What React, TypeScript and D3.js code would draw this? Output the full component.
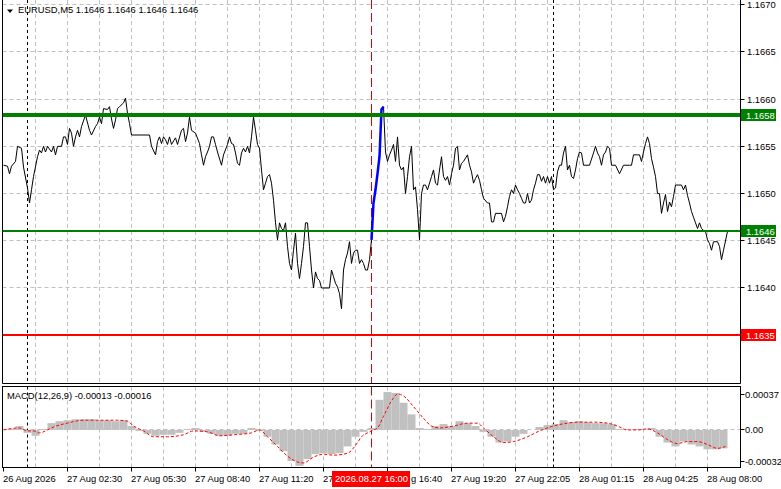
import React, { useEffect, useRef } from "react";
import * as d3 from "d3";

const W = 781;
const H = 489;

const symbolTitle = "EURUSD,M5  1.1646 1.1646 1.1646 1.1646";
const macdTitle = "MACD(12,26,9) -0.00013 -0.00016";

const priceTicks = [1.1635, 1.164, 1.1645, 1.165, 1.1655, 1.166, 1.1665, 1.167];
const macdTicks = [0.00037, 0, -0.00032];
const macdTickLabels = ["0.00037", "0.00", "-0.00032"];

const timeLabels = [
  "26 Aug 2026",
  "27 Aug 02:30",
  "27 Aug 05:30",
  "27 Aug 08:40",
  "27 Aug 11:20",
  "27 Aug 14:00",
  "27 Aug 16:40",
  "27 Aug 19:20",
  "27 Aug 22:05",
  "28 Aug 01:15",
  "28 Aug 04:25",
  "28 Aug 08:00",
];

// bar index of each close (M5 bars)
const priceBars = [
  0, 2, 3, 4, 6, 7, 9, 10, 12, 13, 14, 15, 17, 18, 19, 20, 21, 22, 24, 25, 26, 27, 29, 30, 31, 32, 33, 34, 35,
  36, 37, 38, 39, 41, 43, 44, 46, 47, 48, 49, 50, 52, 53, 54, 55, 56, 57, 58, 60, 61, 62, 63, 64, 73, 74, 76,
  77, 78, 79, 80, 81, 82, 83, 84, 86, 87, 89, 90, 91, 92, 93, 94, 96, 98, 99, 100, 101, 102, 103, 104, 105,
  106, 107, 109, 110, 112, 113, 114, 115, 116, 117, 118, 119, 120, 121, 122, 123, 124, 125, 126, 127, 128,
  129, 130, 131, 132, 133, 134, 135, 136, 137, 138, 139, 140, 141, 142, 143, 144, 145, 146, 147, 148, 149,
  150, 151, 152, 153, 154, 155, 156, 157, 158, 159, 163, 164, 165, 166, 167, 168, 169, 170, 171, 172, 173,
  174, 175, 176, 177, 178, 179, 180, 181, 182, 183, 184, 185, 186, 187, 188, 189, 190, 191, 192, 193, 194,
  195, 196, 197, 198, 199, 200, 201, 202, 203, 204, 205, 206, 207, 208, 209, 210, 211, 212, 214, 215, 216,
  217, 218, 219, 220, 221, 222, 223, 224, 225, 226, 227, 228, 229, 230, 232, 233, 234, 235, 236, 237, 238,
  239, 240, 242, 243, 244, 245, 246, 249, 250, 251, 252, 253, 254, 255, 256, 257, 258, 259, 260, 261, 262,
  263, 264, 265, 266, 267, 268, 269, 270, 271, 272, 273, 274, 275, 276, 277, 278, 279, 280, 281, 282, 283,
  284, 285, 286, 287, 288, 289, 290, 293, 295, 296, 297, 298, 299, 300, 301, 302, 303, 304, 306, 308, 310,
  313, 314, 315, 317, 318, 319, 320, 321, 322, 323, 324, 325, 326, 327, 328, 329, 330, 331, 332, 333, 334,
  335, 336, 339, 340, 341, 342, 343, 344, 345, 346, 347, 348, 349, 350, 351, 352, 353, 354, 355, 357, 358,
  359, 360, 362,
];

const priceClose = [
  1.1653, 1.16529, 1.16521, 1.16529, 1.16534, 1.1655, 1.16548, 1.16528, 1.16506, 1.1649, 1.16504, 1.16518,
  1.16539, 1.16546, 1.16543, 1.1655, 1.16544, 1.1655, 1.16544, 1.1655, 1.16541, 1.1655, 1.1655, 1.1656,
  1.1656, 1.16552, 1.16569, 1.16564, 1.1655, 1.1656, 1.16567, 1.1656, 1.16571, 1.16583, 1.16567, 1.16562,
  1.16571, 1.16574, 1.16581, 1.16574, 1.1659, 1.16589, 1.16592, 1.16579, 1.16569, 1.16578, 1.1659, 1.16592,
  1.16596, 1.16601, 1.16585, 1.16574, 1.16562, 1.16562, 1.1655, 1.16541, 1.16555, 1.1656, 1.16553, 1.1656,
  1.16557, 1.16552, 1.1656, 1.16552, 1.16559, 1.16552, 1.16567, 1.16569, 1.16555, 1.16564, 1.16581, 1.16567,
  1.16564, 1.16553, 1.16541, 1.1653, 1.16539, 1.16544, 1.1655, 1.1656, 1.1656, 1.16552, 1.16544, 1.1653,
  1.16541, 1.16552, 1.1656, 1.16553, 1.16552, 1.16543, 1.16532, 1.1653, 1.16543, 1.16548, 1.16544, 1.1655,
  1.16543, 1.1656, 1.16581, 1.16567, 1.16552, 1.16548, 1.16525, 1.16504, 1.16511, 1.16518, 1.1652, 1.16511,
  1.16493, 1.16469, 1.16451, 1.16469, 1.16463, 1.16461, 1.16469, 1.16444, 1.16426, 1.16419, 1.1644, 1.16458,
  1.16426, 1.1641, 1.16426, 1.16444, 1.16469, 1.16469, 1.16444, 1.16419, 1.164, 1.16417, 1.1641, 1.16408,
  1.164, 1.164, 1.16419, 1.16412, 1.16405, 1.16401, 1.16394, 1.16378, 1.16419, 1.1643, 1.16437, 1.16449,
  1.16426, 1.16437, 1.1644, 1.1644, 1.16426, 1.1643, 1.16426, 1.16419, 1.16419, 1.1643, 1.16451, 1.1649,
  1.16504, 1.16521, 1.16539, 1.16589, 1.16592, 1.16544, 1.16534, 1.16541, 1.16546, 1.16552, 1.16534,
  1.1656, 1.1653, 1.16525, 1.16528, 1.165, 1.16518, 1.16539, 1.1655, 1.16504, 1.16507, 1.16483, 1.16451,
  1.165, 1.16509, 1.16509, 1.16504, 1.16518, 1.16525, 1.16511, 1.16509, 1.16525, 1.16539, 1.16518, 1.16514,
  1.16518, 1.16509, 1.16521, 1.1653, 1.16548, 1.1655, 1.16525, 1.16532, 1.16534, 1.16541, 1.1653, 1.16523,
  1.16511, 1.16516, 1.1652, 1.16514, 1.16504, 1.16495, 1.1649, 1.1649, 1.1647, 1.1647, 1.16479, 1.16479,
  1.1647, 1.16476, 1.16486, 1.16497, 1.16504, 1.165, 1.16509, 1.16504, 1.165, 1.16495, 1.1649, 1.1649, 1.165,
  1.1649, 1.16493, 1.16504, 1.16511, 1.1652, 1.1652, 1.16513, 1.16518, 1.16511, 1.16518, 1.16511, 1.16518,
  1.16504, 1.16506, 1.16523, 1.1653, 1.1653, 1.16543, 1.1655, 1.16525, 1.1653, 1.16518, 1.16516, 1.16525,
  1.16537, 1.16544, 1.16543, 1.1653, 1.1653, 1.16543, 1.1655, 1.16543, 1.16539, 1.1653, 1.16541, 1.16544,
  1.1655, 1.16548, 1.1653, 1.1653, 1.16521, 1.1653, 1.1653, 1.1653, 1.16541, 1.16541, 1.16541, 1.16534,
  1.16544, 1.16553, 1.1656, 1.16553, 1.16537, 1.16528, 1.16518, 1.165, 1.165, 1.16479, 1.1649, 1.16499,
  1.16481, 1.16491, 1.16486, 1.16497, 1.16509, 1.16509, 1.16504, 1.16509, 1.16498, 1.1649, 1.16481, 1.16475,
  1.16469, 1.16463, 1.16469, 1.16463, 1.16461, 1.1646, 1.16451, 1.16447, 1.1644, 1.16449, 1.16449, 1.16444,
  1.1643, 1.1644, 1.1646,
];

// the breakout bars highlighted in blue
const highlightFrom = 184;
const highlightTo = 190;

const levelValues = [1.16583, 1.1646, 1.1635];
const dayBreakBars = [12, 275];
const markerBar = 184;
const markerLabel = "2026.08.27 16:00";

// MACD histogram, one reading every 4 bars starting at bar 0
const histValues = [
  0.00001, 0.00001, 0.00004, -0.00003, -0.00006, 0.00001, 0.00007, 0.00009, 0.0001, 0.00011, 0.00011,
  0.00011, 0.0001, 0.0001, 0.00009, 0.0001, 0.00004, -0.00001, -0.00004, -0.00006, -0.00005, -0.00005,
  -0.00003, 0.00001, 0.00002, -0.00002, -0.00004, -0.00006, -0.00006, -0.00004, -0.00004, 0.00002,
  -0.00001, -0.00007, -0.00015, -0.00022, -0.00032, -0.00037, -0.0003, -0.00025, -0.00024, -0.00025,
  -0.00024, -0.00017, -0.00007, -0.00002, 0.00002, 0.00031, 0.00039, 0.00038, 0.00028, 0.00016, 0.00002,
  0.00001, 0.00004, 0.00006, 0.00004, 0.00009, 0.00007, 0.00004, -0.00002, -0.00007, -0.00013, -0.00012,
  -0.00007, -0.00004, 0, 0.00003, 0.00005, 0.00006, 0.0001, 0.00008, 0.00009, 0.00008, 0.00007, 0.00007,
  0.00006, 0.00001, 0, 0.00001, 0, 0.00002, -0.00007, -0.00013, -0.00017, -0.00012, -0.00015, -0.00017,
  -0.0002, -0.0002, -0.00019,
];

const signalBars = [
  0, 8, 12, 15, 18, 22, 25, 32, 40, 48, 57, 62, 65, 70, 75, 82, 90, 95, 102, 108, 115, 124, 128, 132, 137,
  142, 147, 150, 155, 160, 165, 172, 177, 179, 182, 185, 187, 190, 195, 197, 200, 205, 210, 214, 218, 225,
  232, 237, 240, 245, 250, 255, 262, 268, 275, 282, 288, 295, 302, 307, 312, 317, 322, 327, 332, 337, 342,
  347, 352, 357, 361,
];
const signalValues = [
  0, 0.00002, -0.00001, -0.00001, -0.00003, 0, 0.00003, 0.00007, 0.0001, 0.0001, 0.0001, 0.00009, 0.00004,
  -0.00001, -0.00007, -0.00007, -0.00005, -0.00001, -0.00002, -0.00006, -0.00005, -0.00003, 0, -0.00007,
  -0.00017, -0.00027, -0.00033, -0.00034, -0.00028, -0.00025, -0.00026, -0.00024, -0.00013, -0.00007,
  -0.00003, 0, 0.00002, 0.00014, 0.00033, 0.00037, 0.00035, 0.00024, 0.00012, 0.00004, 0.00002, 0.00004,
  0.00007, 0.00007, 0.00002, -0.00007, -0.00013, -0.00012, -0.00007, -0.00001, 0.00004, 0.00007, 0.00008,
  0.00008, 0.00007, 0.00004, 0, 0, 0.00001, -0.00003, -0.0001, -0.00014, -0.00012, -0.00012, -0.00015,
  -0.00019, -0.00017,
];

const crisp = (v: number) => Math.round(v - 0.5) + 0.5;

export default function App() {
  const svgRef = useRef<SVGSVGElement | null>(null);

  useEffect(() => {
    if (!svgRef.current) return;
    const svg = d3.select(svgRef.current);
    svg.selectAll("*").remove();

    const font = "'Liberation Sans', Arial, sans-serif";
    const fs = 9.4;
    const left = 2.5;
    const right = 740.5;
    const mainBottom = 383.5;
    const macdTop = 386.5;
    const macdBottom = 467.5;

    const x = d3.scaleLinear().domain([0, 368]).range([3.5, 739.5]);
    const y = d3.scaleLinear().domain([1.1635, 1.167]).range([335.2, 4.7]);
    const ym = d3.scaleLinear().domain([-0.00032, 0.00037]).range([461, 394]);

    const mx = x(markerBar);
    const box = { x: mx - 39.5, y: 471, w: 78, h: 16 };

    svg.append("rect").attr("width", W).attr("height", H).attr("fill", "#ffffff");

    const defs = svg.append("defs");
    defs
      .append("clipPath")
      .attr("id", "clipMain")
      .append("rect")
      .attr("x", left)
      .attr("y", 0)
      .attr("width", right - left)
      .attr("height", mainBottom);
    defs
      .append("clipPath")
      .attr("id", "clipMacd")
      .append("rect")
      .attr("x", left)
      .attr("y", macdTop)
      .attr("width", right - left)
      .attr("height", macdBottom - macdTop);

    const main = svg.append("g").attr("clip-path", "url(#clipMain)");
    const macd = svg.append("g").attr("clip-path", "url(#clipMacd)");

    // grid
    const gridBars = d3.range(16, 368, 16);
    const panels: [typeof main, number, number][] = [
      [main, 0, mainBottom],
      [macd, macdTop, macdBottom],
    ];
    panels.forEach(([g, y0, y1]) => {
      g.selectAll(".vgrid")
        .data(gridBars)
        .enter()
        .append("line")
        .attr("x1", (d) => crisp(x(d)))
        .attr("x2", (d) => crisp(x(d)))
        .attr("y1", y0)
        .attr("y2", y1)
        .attr("stroke", "#c0c0c0")
        .attr("stroke-dasharray", "4,3");
    });
    main
      .selectAll(".hgrid")
      .data(priceTicks)
      .enter()
      .append("line")
      .attr("x1", left)
      .attr("x2", right)
      .attr("y1", (d) => crisp(y(d)))
      .attr("y2", (d) => crisp(y(d)))
      .attr("stroke", "#c0c0c0")
      .attr("stroke-dasharray", "4,3");
    macd
      .append("line")
      .attr("x1", left)
      .attr("x2", right)
      .attr("y1", crisp(ym(0)))
      .attr("y2", crisp(ym(0)))
      .attr("stroke", "#c0c0c0")
      .attr("stroke-dasharray", "4,3");

    // day separators and the marked bar
    panels.forEach(([g, y0, y1]) => {
      g.selectAll(".day")
        .data(dayBreakBars)
        .enter()
        .append("line")
        .attr("x1", (d) => crisp(x(d)))
        .attr("x2", (d) => crisp(x(d)))
        .attr("y1", y0)
        .attr("y2", y1)
        .attr("stroke", "#000000")
        .attr("stroke-dasharray", "3,3");
      g.append("line")
        .attr("x1", crisp(x(markerBar)))
        .attr("x2", crisp(x(markerBar)))
        .attr("y1", y0)
        .attr("y2", y1)
        .attr("stroke", "#e00000")
        .attr("stroke-dasharray", "9,4");
    });

    // price line
    const pts = priceBars.map((b, i) => ({ b, v: priceClose[i] }));
    const line = d3
      .line<{ b: number; v: number }>()
      .x((d) => x(d.b))
      .y((d) => y(d.v));
    main
      .append("path")
      .datum(pts)
      .attr("fill", "none")
      .attr("stroke", "#000000")
      .attr("stroke-width", 1)
      .attr("d", line);
    main
      .append("path")
      .datum(pts.filter((d) => d.b >= highlightFrom && d.b <= highlightTo))
      .attr("fill", "none")
      .attr("stroke", "#0000ff")
      .attr("stroke-width", 2.5)
      .attr("d", line);

    // levels
    const levelColors = ["#008000", "#008000", "#ff0000"];
    const levelWidths = [4, 2, 2];
    main
      .selectAll(".level")
      .data(levelValues)
      .enter()
      .append("line")
      .attr("x1", left)
      .attr("x2", right)
      .attr("y1", (d) => Math.round(y(d)))
      .attr("y2", (d) => Math.round(y(d)))
      .attr("stroke", (_, i) => levelColors[i])
      .attr("stroke-width", (_, i) => levelWidths[i]);

    // MACD histogram and signal
    const lastBar = priceBars[priceBars.length - 1];
    macd
      .selectAll(".hist")
      .data(histValues)
      .enter()
      .append("rect")
      .attr("x", (_, i) => x(Math.max(0, i * 4 - 2)))
      .attr("width", (_, i) => x(Math.min(lastBar + 0.5, i * 4 + 2)) - x(Math.max(0, i * 4 - 2)))
      .attr("y", (d) => Math.min(ym(d), ym(0)))
      .attr("height", (d) => Math.abs(ym(d) - ym(0)))
      .attr("fill", "#c0c0c0");
    const sig = signalBars.map((b, i) => ({ b, v: signalValues[i] }));
    macd
      .append("path")
      .datum(sig)
      .attr("fill", "none")
      .attr("stroke", "#ff0000")
      .attr("stroke-width", 1)
      .attr("stroke-dasharray", "3,2")
      .attr(
        "d",
        d3
          .line<{ b: number; v: number }>()
          .x((d) => x(d.b))
          .y((d) => ym(d.v))
          .curve(d3.curveMonotoneX)
      );

    // frames
    const frame = svg.append("g").attr("stroke", "#000000").attr("fill", "none");
    frame.append("path").attr("d", `M${left},0V${mainBottom}H${right}V0`);
    frame
      .append("rect")
      .attr("x", left)
      .attr("y", macdTop)
      .attr("width", right - left)
      .attr("height", macdBottom - macdTop);

    // right axis
    const axis = svg.append("g").attr("font-family", font).attr("font-size", fs).attr("fill", "#000000");
    priceTicks.forEach((t) => {
      const yy = crisp(y(t));
      axis.append("line").attr("x1", right).attr("x2", right + 4).attr("y1", yy).attr("y2", yy).attr("stroke", "#000");
      axis.append("text").attr("x", 747).attr("y", yy + 3.5).text(t.toFixed(4));
    });
    macdTicks.forEach((t, i) => {
      const yy = crisp(ym(t));
      axis.append("line").attr("x1", right).attr("x2", right + 4).attr("y1", yy).attr("y2", yy).attr("stroke", "#000");
      axis.append("text").attr("x", 745).attr("y", yy + 3.5).text(macdTickLabels[i]);
    });

    // level labels on the axis
    levelValues.forEach((v, i) => {
      const yy = Math.round(y(v));
      axis.append("rect").attr("x", 741).attr("y", yy - 6).attr("width", 35).attr("height", 12).attr("fill", levelColors[i]);
      axis.append("text").attr("x", 746).attr("y", yy + 3.5).attr("fill", "#ffffff").text(v.toFixed(4));
    });

    // time axis; the marker box covers part of two labels, so only the visible part is kept
    timeLabels.forEach((t, i) => {
      const xx = crisp(x(i * 32));
      axis.append("line").attr("x1", xx).attr("x2", xx).attr("y1", macdBottom).attr("y2", macdBottom + 4).attr("stroke", "#000");
      const txt = axis.append("text").attr("x", xx - 0.5).attr("y", 481.5).text(t);
      const node = txt.node() as SVGTextElement;
      const len = node.getComputedTextLength();
      const x0 = xx - 0.5;
      if (x0 < box.x + box.w && x0 + len > box.x) {
        if (x0 < box.x) {
          let n = t.length;
          while (n > 0 && x0 + node.getSubStringLength(0, n) > box.x + 2) n--;
          txt.text(t.slice(0, n).trimEnd());
        } else {
          let s = 0;
          while (s < t.length && x0 + node.getSubStringLength(0, s) < box.x + box.w) s++;
          const start = x0 + node.getSubStringLength(0, s);
          txt.attr("x", start).text(t.slice(s));
        }
      }
    });
    axis.append("rect").attr("x", box.x).attr("y", box.y).attr("width", box.w).attr("height", box.h).attr("fill", "#ff0000");
    axis
      .append("text")
      .attr("x", mx)
      .attr("y", 481.5)
      .attr("text-anchor", "middle")
      .attr("fill", "#ffffff")
      .text(markerLabel);

    // titles
    axis.append("path").attr("d", "M7,9.5H13L10,13Z").attr("fill", "#000");
    axis.append("text").attr("x", 18).attr("y", 13.3).text(symbolTitle);
    axis.append("text").attr("x", 7).attr("y", 398.7).text(macdTitle);
  }, []);

  return (
    <div style={{ position: "absolute", left: 0, top: 0, width: W, height: H, background: "#fff" }}>
      <svg ref={svgRef} width={W} height={H} style={{ display: "block" }}></svg>
    </div>
  );
}
